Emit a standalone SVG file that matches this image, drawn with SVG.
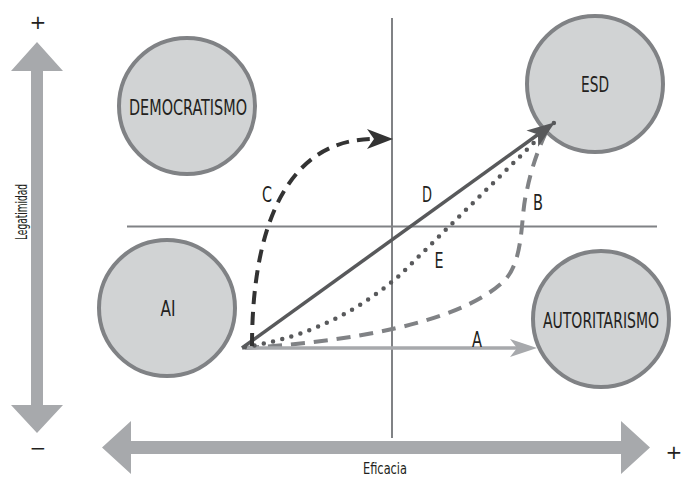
<svg xmlns="http://www.w3.org/2000/svg" width="683" height="477" viewBox="0 0 683 477">
<style>
.node circle{fill:#d1d3d4;stroke:#808285;stroke-width:4}
.lbl{font-family:"DejaVu Sans","Liberation Sans",sans-serif;font-stretch:condensed;font-size:21px;fill:#231f20;text-anchor:middle}
.ax{font-family:"DejaVu Sans","Liberation Sans",sans-serif;font-stretch:condensed;font-size:15px;fill:#231f20;text-anchor:middle}
.sign{font-family:"DejaVu Sans","Liberation Sans",sans-serif;font-size:20px;fill:#231f20;text-anchor:middle}
.grid{stroke:#808285;stroke-width:2;fill:none}
.axis{fill:#a7a9ac}
</style>
<defs>
<marker id="hA" viewBox="-30 -12 32 24" refX="-20" refY="0" markerWidth="32" markerHeight="24" markerUnits="userSpaceOnUse" orient="auto"><path d="M0,0 L-27,-9 L-20,0 L-27,9 Z" fill="#a7a9ac"/></marker>
<marker id="hD" viewBox="-30 -12 32 24" refX="-21" refY="0" markerWidth="32" markerHeight="24" markerUnits="userSpaceOnUse" orient="auto"><path d="M0,0 L-28,-10 L-21,0 L-28,10 Z" fill="#58595b"/></marker>
<marker id="hC" viewBox="-30 -12 32 24" refX="-19" refY="0" markerWidth="32" markerHeight="24" markerUnits="userSpaceOnUse" orient="auto"><path d="M0,0 L-26,-10 L-19,0 L-26,10 Z" fill="#333333"/></marker>
</defs>

<g id="axes">
<line class="grid" x1="392" y1="18" x2="392" y2="438"/>
<line class="grid" x1="127" y1="226.5" x2="657" y2="226.5"/>
<polygon class="axis" points="37,42 63,71 43,71 43,405 63,405 37,433 11,405 31,405 31,71 11,71"/>
<polygon class="axis" points="102,447.5 131,421 131,441 621,441 621,421 650,447.5 621,474 621,454 131,454 131,474"/>
<text class="sign" x="38" y="29">+</text>
<text class="sign" x="38" y="455">−</text>
<text class="sign" x="674" y="459">+</text>
<text class="ax" transform="translate(27,212) rotate(-90)" textLength="56" lengthAdjust="spacingAndGlyphs">Legatimidad</text>
<text class="ax" x="385" y="474" textLength="44" lengthAdjust="spacingAndGlyphs">Eficacia</text>
</g>

<g id="democratismo" class="node"><circle cx="187" cy="106" r="68"/><text class="lbl" x="188" y="115" textLength="118" lengthAdjust="spacingAndGlyphs">DEMOCRATISMO</text></g>
<g id="esd" class="node"><circle cx="595" cy="84" r="68"/><text class="lbl" x="595" y="92" textLength="28" lengthAdjust="spacingAndGlyphs">ESD</text></g>
<g id="ai" class="node"><circle cx="167" cy="308" r="68"/><text class="lbl" x="168" y="316" textLength="15" lengthAdjust="spacingAndGlyphs">AI</text></g>
<g id="autoritarismo" class="node"><circle cx="601" cy="319" r="68"/><text class="lbl" x="601" y="328" textLength="116" lengthAdjust="spacingAndGlyphs">AUTORITARISMO</text></g>

<g id="connectors" fill="none">
<path d="M245,348 C380,340 470,315 505,280 C525,258 520,215 527,190 C532,165 540,145 548,128" stroke="#808285" stroke-width="4" stroke-dasharray="14 9"/>
<line x1="242" y1="348" x2="517" y2="348" stroke="#a7a9ac" stroke-width="3.5" marker-end="url(#hA)"/>
<path d="M245,347 C310,337 360,310 400,275 L560,117" stroke="#58595b" stroke-width="4.5" stroke-dasharray="0 9.5" stroke-linecap="round"/>
<line x1="242" y1="348" x2="538" y2="134.5" stroke="#58595b" stroke-width="3.5" marker-end="url(#hD)"/>
<path d="M252,346 C252,230 285,139 374,139" stroke="#333333" stroke-width="4" stroke-dasharray="13 8" marker-end="url(#hC)"/>
<text class="lbl" x="477" y="347" textLength="10" lengthAdjust="spacingAndGlyphs">A</text>
<text class="lbl" x="538" y="210" textLength="10" lengthAdjust="spacingAndGlyphs">B</text>
<text class="lbl" x="267" y="202" textLength="10" lengthAdjust="spacingAndGlyphs">C</text>
<text class="lbl" x="427" y="202" textLength="10" lengthAdjust="spacingAndGlyphs">D</text>
<text class="lbl" x="439" y="268" textLength="9" lengthAdjust="spacingAndGlyphs">E</text>
</g>
</svg>
